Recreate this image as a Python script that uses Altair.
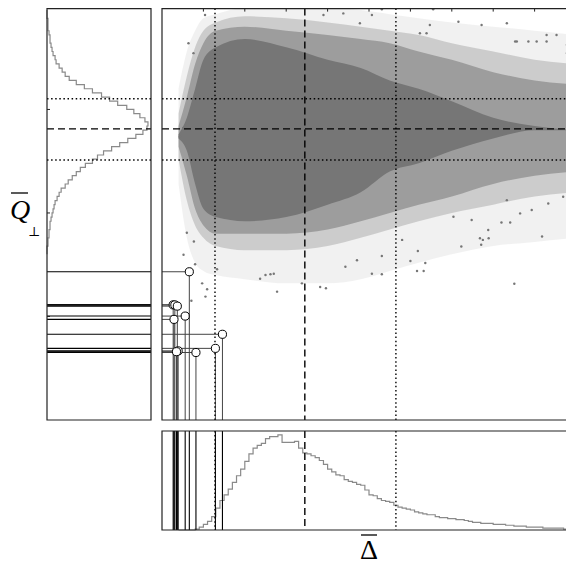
import altair as alt
import pandas as pd

# ---------------- data ----------------
delta_letter = "\u0394"     # Delta (drawn with a bar over it)
q_letter = "Q"              # Q (drawn with a bar over it)
perp_glyph = "\u22a5"       # perpendicular subscript

# reference lines: mean (dashed) and mean +/- std (dotted)
x_ref_dot = [12.8, 56.5]
x_ref_dash = [34.5]
y_ref_dot = [62.8, 77.6]
y_ref_dash = [70.3]

# outliers (white circles)
outlier_x = [6.6, 2.7, 3.1, 3.7, 5.6, 2.9, 14.6, 12.9, 3.9, 3.5, 8.2]
outlier_y = [35.8, 27.8, 27.8, 27.5, 25.1, 24.3, 20.7, 17.3, 16.7, 16.5, 16.3]

# marginal histogram of Q (bin starts, relative counts in % of peak)
yhist_start = list(range(40, 99))
yhist_count = [0, 0, 1, 1, 2, 2, 3, 3, 4, 5,
               6, 7, 8, 10, 12, 14, 18, 21, 25, 29,
               33, 38, 45, 50, 56, 64, 72, 80, 88, 95,
               99, 100, 97, 92, 86, 79, 70, 62, 54, 45,
               37, 29, 22, 18, 15, 12, 9, 8, 6, 5,
               4, 3, 3, 2, 1, 1, 1, 0, 0]

# marginal histogram of Delta (bin starts, relative counts in % of peak)
xhist_start = list(range(4, 100))
xhist_count = [0, 0, 0, 0, 1, 3, 6, 9, 14, 23,
               31, 37, 43, 50, 57, 64, 72, 80, 86, 89,
               91, 96, 98, 98, 100, 92, 92, 92, 93, 86,
               81, 80, 78, 76, 73, 69, 64, 61, 58, 57,
               53, 51, 50, 48, 47, 42, 37, 36, 33, 31,
               30, 29, 26, 24, 23, 22, 21, 19, 18, 17,
               16, 16, 14, 13, 13, 12, 12, 11, 11, 10,
               9, 8, 8, 7, 7, 7, 6, 6, 6, 5,
               5, 4, 4, 4, 3, 3, 3, 3, 2, 2,
               2, 2, 2, 1, 1, 1]

# density levels of the point cloud: y extent of each level per x column
band_x = [4, 6, 8, 10, 13, 20, 30, 40, 48, 55, 62, 70, 80, 90, 100]
l1_lo = [57, 44, 38, 36, 35, 34, 33, 33, 34, 36, 38, 40, 42, 43, 44]
l1_hi = [80, 89, 94, 97, 98, 99.5, 99.5, 99.5, 99, 98, 97, 96, 95, 94, 93]
l2_lo = [63, 53, 47, 44, 42, 41, 41, 42, 44, 46, 48, 50, 52, 54, 55]
l2_hi = [74, 83, 90, 94, 96, 97.5, 97, 96, 95, 94, 93, 91, 89, 87, 86]
l3_lo = [66, 59, 51, 47, 45, 45, 45, 46, 48, 50, 52, 54, 57, 59, 60]
l3_hi = [71, 78, 86, 91, 94, 95, 94, 93, 92, 91, 89, 87, 84, 82, 81]
l4_lo = [68, 65, 57, 51, 49, 48, 49, 52, 55, 60, 62, 65, 68, 70, 70]
l4_hi = [69, 73, 80, 87, 90, 92, 90, 87, 85, 82, 80, 77, 73, 71, 70]

# isolated points at the edge of the cloud
fringe_x = [23.7, 25.0, 26.2, 27.0, 27.8, 33.8, 38.2, 39.6, 50.7, 53.1,
            60.0, 61.6, 63.2, 63.6, 61.8, 72.3, 77.1, 77.5, 78.9, 91.8,
            85.1, 98.9, 9.7, 10.9, 10.5, 7.1, 13.3, 8.0, 5.2, 6.0,
            7.7, 53.1, 47.1, 44.3, 58.0, 84.1, 82.0,
            65.5, 77.2, 83.3, 71.6, 64.7, 92.9, 95.3, 97.8, 10.4, 6.4,
            7.6, 4.3, 5.1, 85.3, 88.5, 39.0, 43.8, 50.7, 53.1, 47.8,
            62.3, 63.9, 90.5, 92.9, 85.7, 97.8, 78.8, 76.8, 83.3, 89.3,
            93.3, 96.9, 86.5, 74.8, 70.4]
fringe_y = [34.1, 35.0, 35.2, 35.3, 31.0, 33.0, 32.1, 31.8, 35.3, 35.2,
            38.4, 36.0, 36.0, 37.9, 40.8, 41.9, 42.3, 43.5, 43.9, 44.3,
            32.9, 39.1, 33.0, 31.6, 29.8, 28.8, 36.4, 37.6, 39.9, 45.2,
            43.1, 39.6, 38.6, 37.0, 43.5, 47.7, 47.7,
            99.2, 95.4, 95.8, 96.2, 95.4, 93.0, 93.0, 88.6, 97.8, 91.0,
            88.6, 68.4, 70.5, 91.4, 91.4, 97.8, 98.2, 97.8, 99.2, 95.8,
            93.4, 93.4, 91.4, 91.4, 91.4, 90.6, 45.9, 43.9, 53.1, 50.7,
            52.3, 53.9, 49.9, 48.3, 49.1]

x_ticks = [10, 20, 30, 40, 50, 60, 70, 80, 90]
y_ticks = [25, 50, 75]

# ---------------- layout (pixels inside the plot area) ----------------
W, H = 558, 559
LEFT_X0, LEFT_X1 = 39, 143          # Q-histogram panel
MAIN_X0, MAIN_X1 = 154, 568         # scatter panel (runs off the right edge)
MAIN_Y0, MAIN_Y1 = 0.6, 412         # scatter panel top / bottom
BOT_Y0, BOT_Y1 = 423, 522           # Delta-histogram panel

PT = "#767676"
HIST = "#8a8a8a"
FRAME = "#222222"
DOT = [1.5, 2.6]
DASH = [7, 4]
FONT = "Liberation Serif"

XM = alt.Scale(domain=[0, 100], range=[MAIN_X0, MAIN_X1], nice=False, zero=False)
YM = alt.Scale(domain=[0, 99.5], range=[MAIN_Y1, 0], nice=False, zero=False)
CL = alt.Scale(domain=[0, 103], range=[LEFT_X0, LEFT_X1], nice=False, zero=False)
CB = alt.Scale(domain=[0, 104], range=[BOT_Y1, BOT_Y0], nice=False, zero=False)

# ---------------- tables ----------------
bands = pd.DataFrame({"bx": band_x, "l1lo": l1_lo, "l1hi": l1_hi, "l2lo": l2_lo, "l2hi": l2_hi,
                      "l3lo": l3_lo, "l3hi": l3_hi, "l4lo": l4_lo, "l4hi": l4_hi})
fringe = pd.DataFrame({"fx": fringe_x, "fy": fringe_y})
outl = pd.DataFrame({"ox": outlier_x, "oy": outlier_y})
one = pd.DataFrame({"k": [0]})

ysteps = []
for k, (s, c) in enumerate(zip(yhist_start, yhist_count)):
    ysteps.append({"i": 2 * k, "yy": s, "c": c})
    ysteps.append({"i": 2 * k + 1, "yy": s + 1, "c": c})
ysteps = pd.DataFrame(ysteps)

xsteps = []
for k, (s, c) in enumerate(zip(xhist_start, xhist_count)):
    xsteps.append({"i": 2 * k, "xx": s, "c": c})
    xsteps.append({"i": 2 * k + 1, "xx": s + 1, "c": c})
xsteps = pd.DataFrame(xsteps)


def band(lo, hi, op):
    return alt.Chart(bands).mark_area(color=PT, opacity=op, interpolate="monotone").encode(
        x=alt.X("bx:Q", scale=XM, axis=None),
        y=alt.Y(f"{lo}:Q", scale=YM, axis=None),
        y2=f"{hi}:Q",
    )


def vrules(vals, dash, y0, y1, width=1.4, color="black"):
    return alt.Chart(pd.DataFrame({"v": vals})).mark_rule(
        color=color, strokeWidth=width, strokeDash=dash).encode(
        x=alt.X("v:Q", scale=XM, axis=None), y=alt.value(y0), y2=alt.value(y1))


def hrules(vals, dash, x0, x1, width=1.4, color="black"):
    return alt.Chart(pd.DataFrame({"v": vals})).mark_rule(
        color=color, strokeWidth=width, strokeDash=dash).encode(
        y=alt.Y("v:Q", scale=YM, axis=None), x=alt.value(x0), x2=alt.value(x1))


def frame(x0, x1, y0, y1):
    return alt.Chart(one).mark_rect(fillOpacity=0, stroke=FRAME, strokeWidth=1.2).encode(
        x=alt.value(x0), x2=alt.value(x1), y=alt.value(y0), y2=alt.value(y1))


def label(txt, x, y, size, align="left", style="normal", font=FONT):
    return alt.Chart(pd.DataFrame({"t": [txt]})).mark_text(
        font=font, fontSize=size, fontStyle=style, align=align, baseline="alphabetic", color="black"
    ).encode(text="t:N", x=alt.value(x), y=alt.value(y))


def accent_bar(x0, x1, y):
    return alt.Chart(one).mark_rule(color="black", strokeWidth=1.3).encode(
        x=alt.value(x0), x2=alt.value(x1), y=alt.value(y))


# ---------------- scatter panel ----------------
pts = alt.Chart(fringe).mark_circle(size=6, color=PT, opacity=1).encode(
    x=alt.X("fx:Q", scale=XM, axis=None), y=alt.Y("fy:Q", scale=YM, axis=None))
conn_h = alt.Chart(outl).transform_calculate(zero="0").mark_rule(color="#444", strokeWidth=1).encode(
    x=alt.X("zero:Q", scale=XM, axis=None), x2="ox:Q", y=alt.Y("oy:Q", scale=YM, axis=None))
conn_v = alt.Chart(outl).transform_calculate(zero="0").mark_rule(color="#444", strokeWidth=1).encode(
    x=alt.X("ox:Q", scale=XM, axis=None), y=alt.Y("zero:Q", scale=YM, axis=None), y2="oy:Q")
circles = alt.Chart(outl).mark_circle(size=66, fill="white", stroke="black", strokeWidth=1, opacity=1).encode(
    x=alt.X("ox:Q", scale=XM, axis=None), y=alt.Y("oy:Q", scale=YM, axis=None))
top_ticks = alt.Chart(pd.DataFrame({"t": x_ticks})).mark_rule(color=FRAME, strokeWidth=1).encode(
    x=alt.X("t:Q", scale=XM, axis=None), y=alt.value(MAIN_Y0), y2=alt.value(MAIN_Y0 + 3))

# ---------------- Q histogram panel ----------------
yhist = alt.Chart(ysteps).mark_line(color=HIST, strokeWidth=1.2).encode(
    x=alt.X("c:Q", scale=CL, axis=None), y=alt.Y("yy:Q", scale=YM, axis=None), order="i:Q")
left_out = hrules(outlier_y, [1, 0], LEFT_X0, LEFT_X1, width=1.1)
left_ticks = alt.Chart(pd.DataFrame({"t": y_ticks})).mark_rule(color=FRAME, strokeWidth=1).encode(
    y=alt.Y("t:Q", scale=YM, axis=None), x=alt.value(LEFT_X0), x2=alt.value(LEFT_X0 + 3))

# ---------------- Delta histogram panel ----------------
xhist = alt.Chart(xsteps).mark_line(color=HIST, strokeWidth=1.2).encode(
    x=alt.X("xx:Q", scale=XM, axis=None), y=alt.Y("c:Q", scale=CB, axis=None), order="i:Q")
bot_out = vrules(outlier_x, [1, 0], BOT_Y0, BOT_Y1, width=1.1)

layers = [
    # scatter
    band("l1lo", "l1hi", 0.10),
    band("l2lo", "l2hi", 0.30),
    band("l3lo", "l3hi", 0.55),
    band("l4lo", "l4hi", 1.0),
    pts,
    conn_h, conn_v,
    vrules(x_ref_dot, DOT, MAIN_Y0, MAIN_Y1), vrules(x_ref_dash, DASH, MAIN_Y0, MAIN_Y1),
    hrules(y_ref_dot, DOT, MAIN_X0, MAIN_X1), hrules(y_ref_dash, DASH, MAIN_X0, MAIN_X1),
    top_ticks,
    circles,
    frame(MAIN_X0, MAIN_X1 + 20, MAIN_Y0, MAIN_Y1),
    # Q histogram
    yhist, left_out,
    hrules(y_ref_dot, DOT, LEFT_X0, LEFT_X1), hrules(y_ref_dash, DASH, LEFT_X0, LEFT_X1),
    left_ticks,
    frame(LEFT_X0, LEFT_X1, MAIN_Y0, MAIN_Y1),
    # Delta histogram
    xhist, bot_out,
    vrules(x_ref_dot, DOT, BOT_Y0, BOT_Y1), vrules(x_ref_dash, DASH, BOT_Y0, BOT_Y1),
    frame(MAIN_X0, MAIN_X1 + 20, BOT_Y0, BOT_Y1),
    # axis titles
    label(q_letter, 2, 211, 28, style="italic"),
    accent_bar(3, 20, 185),
    label(perp_glyph, 20, 228, 13, font="DejaVu Serif"),
    label(delta_letter, 361, 551, 28, align="center"),
    accent_bar(353, 369, 527),
]

chart = alt.layer(*layers).resolve_scale(x="independent", y="independent").properties(
    width=W, height=H, padding=0,
    autosize=alt.AutoSizeParams(type="none", contains="padding"),
).configure_view(strokeWidth=0)

chart.save("out.html", embed_options={"renderer": "svg", "actions": False})
